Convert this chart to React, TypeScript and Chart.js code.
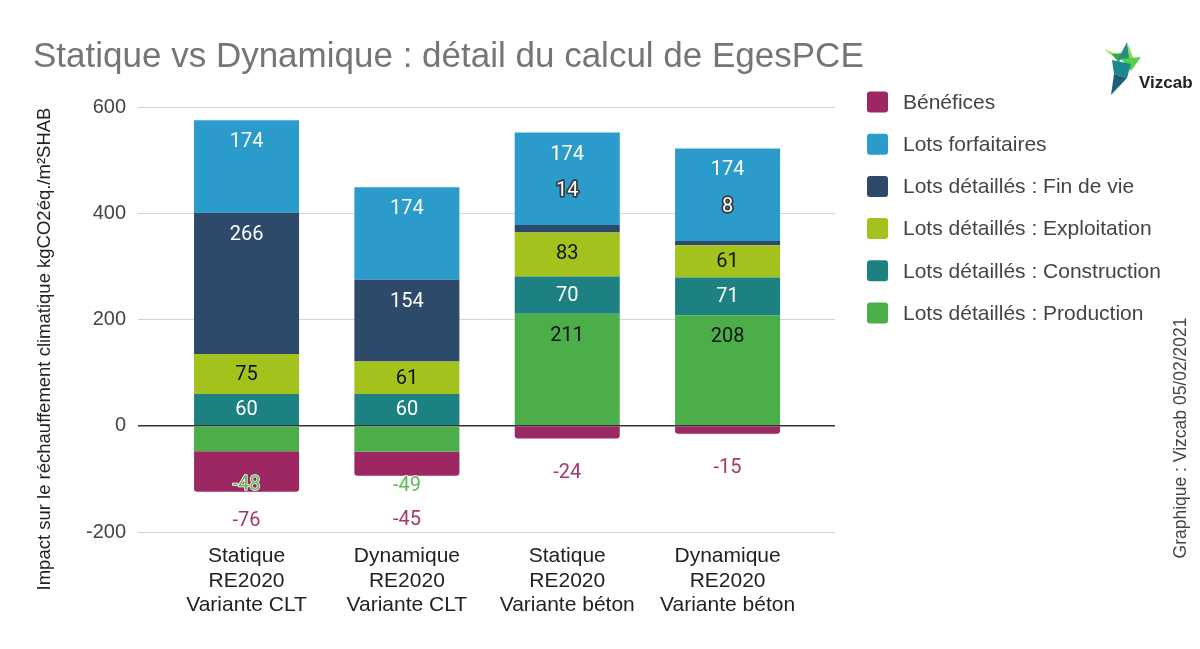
import React, { useEffect, useRef } from "react";
import { Chart, registerables } from "chart.js";

Chart.register(...registerables);

// ---------- data ----------
const categories: string[][] = [
  ["Statique", "RE2020", "Variante CLT"],
  ["Dynamique", "RE2020", "Variante CLT"],
  ["Statique", "RE2020", "Variante béton"],
  ["Dynamique", "RE2020", "Variante béton"],
];
const production = [-48, -49, 211, 208];
const construction = [60, 60, 70, 71];
const exploitation = [75, 61, 83, 61];
const finDeVie = [266, 154, 14, 8];
const forfaitaires = [174, 174, 174, 174];
const benefices = [-76, -45, -24, -15];
const yTicks = [-200, 0, 200, 400, 600];

const titleText = "Statique vs Dynamique : détail du calcul de EgesPCE";
const yAxisTitle = "Impact sur le réchauffement climatique kgCO2éq./m²SHAB";
const creditText = "Graphique : Vizcab 05/02/2021";

// ---------- styles ----------
const SANS = "'Liberation Sans', Arial, sans-serif";
const series = [
  { name: "Lots détaillés : Production", values: production, color: "#4cae48", text: "#111111", negText: "#5cbb55" },
  { name: "Lots détaillés : Construction", values: construction, color: "#1e8181", text: "#ffffff", negText: "#1e8181" },
  { name: "Lots détaillés : Exploitation", values: exploitation, color: "#a3c21d", text: "#111111", negText: "#a3c21d" },
  { name: "Lots détaillés : Fin de vie", values: finDeVie, color: "#2d4a6b", text: "#ffffff", negText: "#2d4a6b" },
  { name: "Lots forfaitaires", values: forfaitaires, color: "#2a9bcb", text: "#ffffff", negText: "#2a9bcb" },
  { name: "Bénéfices", values: benefices, color: "#9c2762", text: "#ffffff", negText: "#a3386d" },
];

const segLabels = {
  id: "segLabels",
  afterDatasetsDraw(chart: any) {
    const ctx = chart.ctx;
    const area = chart.chartArea;
    ctx.save();
    ctx.font = "20px Roboto, 'Liberation Sans', sans-serif";
    ctx.textAlign = "center";
    ctx.textBaseline = "middle";
    ctx.lineJoin = "round";
    for (let j = 0; j < categories.length; j++) {
      const negs: { x: number; y: number; t: string; c: string }[] = [];
      chart.data.datasets.forEach((ds: any, di: number) => {
        const el = chart.getDatasetMeta(di).data[j];
        if (!el) return;
        const v = ds.data[j].y;
        const s = series[di];
        if (v >= 0) {
          const top = el.y;
          const base = el.base;
          const h = base - top;
          if (h < 16) {
            const y = top - 34;
            ctx.lineWidth = 3.5;
            ctx.strokeStyle = "#3a3a3a";
            ctx.strokeText(String(v), el.x, y);
            ctx.fillStyle = "#ffffff";
            ctx.fillText(String(v), el.x, y);
          } else {
            const y = Math.min(top + 22, (top + base) / 2 + 1);
            ctx.fillStyle = s.text;
            ctx.fillText(String(v), el.x, y);
          }
        } else {
          negs.push({ x: el.x, y: el.y + 34, t: String(v), c: s.negText });
        }
      });
      let prev = -Infinity;
      negs.forEach((n) => {
        n.y = Math.max(n.y, prev + 34);
        prev = n.y;
      });
      const limit = area.bottom - 11;
      for (let k = negs.length - 1; k >= 0; k--) {
        const maxY = k === negs.length - 1 ? limit : negs[k + 1].y - 34;
        if (negs[k].y > maxY) negs[k].y = maxY;
      }
      negs.forEach((n) => {
        ctx.lineWidth = 1.5;
        ctx.strokeStyle = "#ffffff";
        ctx.strokeText(n.t, n.x, n.y);
        ctx.fillStyle = n.c;
        ctx.fillText(n.t, n.x, n.y);
      });
    }
    ctx.restore();
  },
};

function poly(ctx: CanvasRenderingContext2D, pts: number[][], color: string) {
  ctx.beginPath();
  ctx.moveTo(pts[0][0], pts[0][1]);
  for (let i = 1; i < pts.length; i++) ctx.lineTo(pts[i][0], pts[i][1]);
  ctx.closePath();
  ctx.fillStyle = color;
  ctx.fill();
}

const decorations = {
  id: "decorations",
  afterDraw(chart: any) {
    const ctx: CanvasRenderingContext2D = chart.ctx;
    const area = chart.chartArea;
    ctx.save();
    // title
    ctx.font = `35px ${SANS}`;
    ctx.fillStyle = "#757575";
    ctx.textAlign = "left";
    ctx.textBaseline = "alphabetic";
    ctx.fillText(titleText, 33, 67);

    // y axis title
    ctx.save();
    ctx.translate(45, 349);
    ctx.rotate(-Math.PI / 2);
    ctx.font = `18.5px ${SANS}`;
    ctx.fillStyle = "#222222";
    ctx.textAlign = "center";
    ctx.textBaseline = "middle";
    ctx.fillText(yAxisTitle, 0, 0);
    ctx.restore();

    // credit
    ctx.save();
    ctx.translate(1181, 438);
    ctx.rotate(-Math.PI / 2);
    ctx.font = `17.5px ${SANS}`;
    ctx.fillStyle = "#444444";
    ctx.textAlign = "center";
    ctx.textBaseline = "middle";
    ctx.fillText(creditText, 0, 0);
    ctx.restore();

    // legend
    const order = [5, 4, 3, 2, 1, 0];
    ctx.font = `21px ${SANS}`;
    ctx.textAlign = "left";
    ctx.textBaseline = "middle";
    order.forEach((di, k) => {
      const ds = chart.data.datasets[di];
      const cy = area.top - 5 + k * 42.2;
      ctx.beginPath();
      (ctx as any).roundRect(867, cy - 10.5, 21, 21, 3);
      ctx.fillStyle = ds.backgroundColor;
      ctx.fill();
      ctx.fillStyle = "#444444";
      ctx.fillText(ds.label, 903, cy + 1);
    });

    // logo (stylised hummingbird)
    poly(ctx, [[1104, 49], [1119, 55], [1116, 59]], "#a4dc4c");
    poly(ctx, [[1112, 54], [1122, 53], [1119, 63]], "#2fa85a");
    poly(ctx, [[1118, 59], [1127, 42], [1130, 62]], "#2a8f7a");
    poly(ctx, [[1127, 42], [1134, 60], [1130, 62]], "#7fe05a");
    poly(ctx, [[1121, 59], [1141, 57], [1131, 71]], "#55d04c");
    poly(ctx, [[1112, 60], [1131, 64], [1127, 78], [1114, 74]], "#1a8a8e");
    poly(ctx, [[1114, 74], [1127, 78], [1111, 95]], "#1f5f78");
    ctx.font = `bold 17px ${SANS}`;
    ctx.fillStyle = "#222222";
    ctx.textAlign = "left";
    ctx.textBaseline = "alphabetic";
    ctx.fillText("Vizcab", 1139, 88);
    ctx.restore();
  },
};

export default function App() {
  const ref = useRef<HTMLCanvasElement>(null);
  useEffect(() => {
    if (!ref.current) return;
    const chart = new Chart(ref.current, {
      type: "bar",
      data: {
        datasets: series.map((s, di) => ({
          label: s.name,
          data: s.values.map((v, i) => ({ x: i, y: v })),
          backgroundColor: s.color,
          borderWidth: 0,
          borderRadius: di === 5 ? { topLeft: 0, topRight: 0, bottomLeft: 3, bottomRight: 3 } : 0,
          categoryPercentage: 1,
          barPercentage: 0.655,
        })),
      },
      options: {
        responsive: false,
        animation: false,
        events: [],
        layout: { padding: { left: 0, top: 107, right: 365, bottom: 0 } },
        plugins: {
          legend: { display: false },
          title: { display: false },
          tooltip: { enabled: false },
        },
        scales: {
          x: {
            type: "linear",
            stacked: true,
            offset: false,
            min: -0.677,
            max: 3.67,
            grid: { display: false },
            border: { display: false },
            afterBuildTicks: (scale: any) => {
              scale.ticks = categories.map((_, i) => ({ value: i }));
            },
            afterFit: (scale: any) => {
              scale.height = 117;
            },
            ticks: {
              autoSkip: false,
              maxRotation: 0,
              minRotation: 0,
              padding: 4,
              color: "#222222",
              font: { family: SANS, size: 21, lineHeight: 24.5 / 21 },
              callback: (v: any) => categories[Math.round(Number(v))] || "",
            },
          },
          y: {
            stacked: true,
            min: -200,
            max: 600,
            afterBuildTicks: (scale: any) => {
              scale.ticks = yTicks.map((v) => ({ value: v }));
            },
            afterFit: (scale: any) => {
              scale.width = 138;
            },
            border: { display: false },
            grid: {
              drawTicks: false,
              color: (c: any) => (c.tick && c.tick.value === 0 ? "#333333" : "#d4d4d4"),
              lineWidth: (c: any) => (c.tick && c.tick.value === 0 ? 1.5 : 1),
            },
            ticks: {
              padding: 12,
              color: "#444444",
              font: { family: SANS, size: 20 },
            },
          },
        },
      },
      plugins: [segLabels, decorations],
    } as any);
    return () => chart.destroy();
  }, []);
  return (
    <div style={{ position: "fixed", left: 0, top: 0, width: 1200, height: 649, background: "#ffffff" }}>
      <canvas ref={ref} width={1200} height={649} style={{ width: 1200, height: 649, display: "block" }} />
    </div>
  );
}
